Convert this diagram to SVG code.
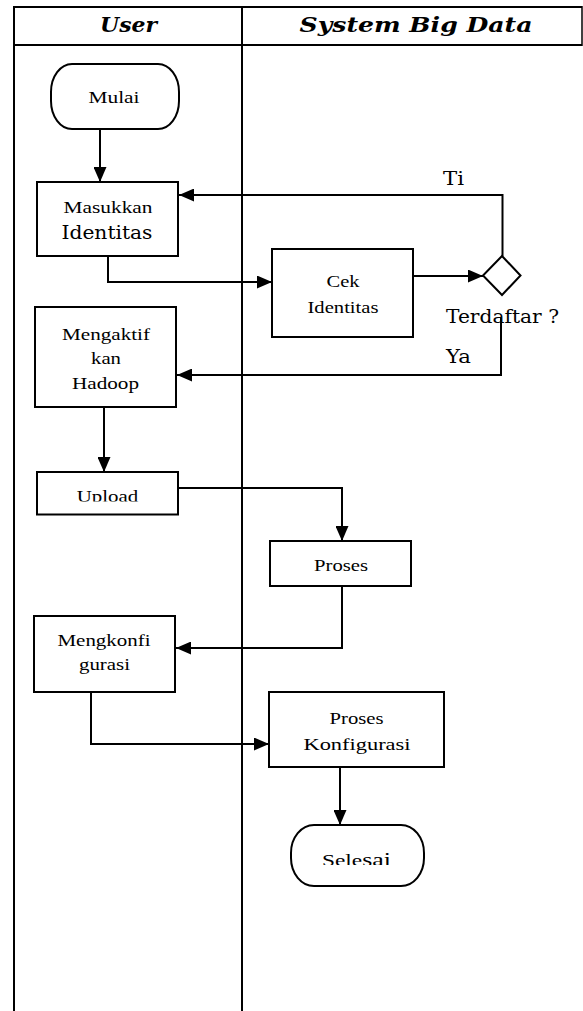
<svg xmlns="http://www.w3.org/2000/svg" width="583" height="1011" viewBox="0 0 583 1011">
<style>
.frame{stroke:#000;stroke-width:2;fill:none}
.box{stroke:#000;stroke-width:2;fill:#fff}
.conn{stroke:#000;stroke-width:2;fill:none}
.t{font-family:"Liberation Serif","Times New Roman",serif;font-size:17.6px;fill:#000;text-anchor:middle}
.b{font-family:"DejaVu Serif","Liberation Serif",serif;font-size:19px;fill:#000}
.h{font-family:"DejaVu Serif","Liberation Serif",serif;font-size:20px;font-weight:bold;font-style:italic;fill:#000;text-anchor:middle}
</style>
<defs>
<marker id="ah" viewBox="0 0 15 13" refX="15" refY="6.5" markerWidth="15" markerHeight="13" markerUnits="userSpaceOnUse" orient="auto">
<path d="M0,0 L15,6.5 L0,13 z" fill="#000"/>
</marker>
<clipPath id="selclip"><rect x="280" y="820" width="160" height="45"/></clipPath>
<clipPath id="upclip"><rect x="40" y="475" width="135" height="26.5"/></clipPath>
</defs>
<rect width="583" height="1011" fill="#fff"/>
<g id="lanes">
<line class="frame" x1="14" y1="7" x2="582" y2="7"/>
<line class="frame" x1="14" y1="45" x2="582" y2="45"/>
<line class="frame" x1="14" y1="6" x2="14" y2="1011"/>
<line class="frame" x1="242" y1="6" x2="242" y2="1011"/>
<line class="frame" x1="582" y1="6" x2="582" y2="46" style="stroke-width:1.5"/>
<text class="h" x="128.5" y="32" textLength="57" lengthAdjust="spacingAndGlyphs">User</text>
<text class="h" x="416" y="32" textLength="233" lengthAdjust="spacingAndGlyphs">System Big Data</text>
</g>
<g id="connectors">
<path class="conn" d="M100,129 V182" marker-end="url(#ah)"/>
<path class="conn" d="M108,256 V282 H272" marker-end="url(#ah)"/>
<path class="conn" d="M413,276 H483" marker-end="url(#ah)"/>
<path class="conn" d="M502.5,256 V195 H179" marker-end="url(#ah)"/>
<path class="conn" d="M501,318 V375 H177" marker-end="url(#ah)"/>
<path class="conn" d="M104,407 V472" marker-end="url(#ah)"/>
<path class="conn" d="M178,488 H342 V541" marker-end="url(#ah)"/>
<path class="conn" d="M342,586 V648 H176" marker-end="url(#ah)"/>
<path class="conn" d="M91,692 V744 H269" marker-end="url(#ah)"/>
<path class="conn" d="M340,767 V825" marker-end="url(#ah)"/>
<text class="b" x="443" y="185" textLength="21" lengthAdjust="spacingAndGlyphs">Ti</text>
<text class="b" x="446" y="363" textLength="25" lengthAdjust="spacingAndGlyphs">Ya</text>
</g>
<g id="mulai">
<rect class="box" x="51" y="64" width="128" height="65" rx="21" ry="28"/>
<text class="t" x="114" y="103" textLength="51" lengthAdjust="spacingAndGlyphs">Mulai</text>
</g>
<g id="masukkan">
<rect class="box" x="37" y="182" width="141" height="74"/>
<text class="t" x="108" y="213" textLength="89" lengthAdjust="spacingAndGlyphs">Masukkan</text>
<text class="b" x="107" y="239" text-anchor="middle" style="font-size:18px" textLength="91" lengthAdjust="spacingAndGlyphs">Identitas</text>
</g>
<g id="cek">
<rect class="box" x="272" y="249" width="141" height="88"/>
<text class="t" x="343" y="287" textLength="33" lengthAdjust="spacingAndGlyphs">Cek</text>
<text class="t" x="343" y="313" textLength="71" lengthAdjust="spacingAndGlyphs">Identitas</text>
</g>
<g id="terdaftar">
<polygon class="box" points="502,256 520.5,275.5 502,295 483,275.5"/>
<text class="b" x="446" y="323" textLength="113" lengthAdjust="spacingAndGlyphs">Terdaftar ?</text>
</g>
<g id="mengaktif">
<rect class="box" x="35" y="307" width="141" height="100"/>
<text class="t" x="106" y="340" textLength="88" lengthAdjust="spacingAndGlyphs">Mengaktif</text>
<text class="t" x="106" y="364" textLength="30" lengthAdjust="spacingAndGlyphs">kan</text>
<text class="t" x="105.5" y="389" textLength="67" lengthAdjust="spacingAndGlyphs">Hadoop</text>
</g>
<g id="upload">
<rect class="box" x="37" y="472" width="141" height="42.5"/>
<text class="t" x="107.5" y="501.5" textLength="61.5" lengthAdjust="spacingAndGlyphs" clip-path="url(#upclip)">Upload</text>
</g>
<g id="proses">
<rect class="box" x="270" y="541" width="141" height="45"/>
<text class="t" x="341" y="571" textLength="54" lengthAdjust="spacingAndGlyphs">Proses</text>
</g>
<g id="mengkonfi">
<rect class="box" x="34" y="616" width="141" height="76"/>
<text class="t" x="104" y="646" textLength="93" lengthAdjust="spacingAndGlyphs">Mengkonfi</text>
<text class="t" x="104.5" y="670" textLength="51" lengthAdjust="spacingAndGlyphs">gurasi</text>
</g>
<g id="proses-konfigurasi">
<rect class="box" x="269" y="692" width="175" height="75"/>
<text class="t" x="356.5" y="724" textLength="54" lengthAdjust="spacingAndGlyphs">Proses</text>
<text class="t" x="357" y="750" textLength="107" lengthAdjust="spacingAndGlyphs">Konfigurasi</text>
</g>
<g id="selesai">
<rect class="box" x="291" y="825" width="133" height="61" rx="23" ry="28"/>
<text class="t" x="356.5" y="866" textLength="69" lengthAdjust="spacingAndGlyphs" clip-path="url(#selclip)">Sele<tspan style="font-size:19.5px">sai</tspan></text>
</g>
</svg>
